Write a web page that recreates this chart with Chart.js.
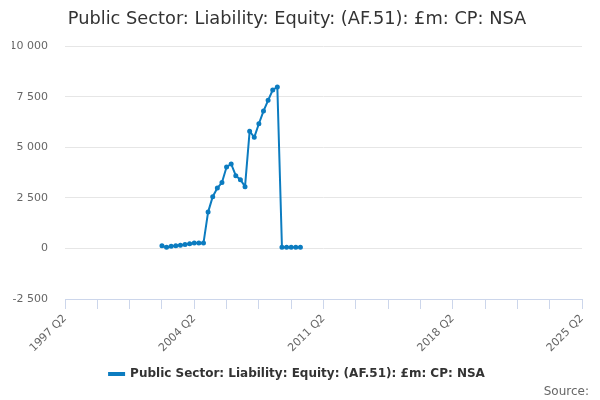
<!DOCTYPE html>
<html lang="en">
  <head>
    <meta charset="utf-8">
    <title>Public Sector equity liability</title>
    <script src="https://cdn.jsdelivr.net/npm/chart.js@4.4.0/dist/chart.umd.min.js"></script>
    <style>
      body { margin: 0; background: #fff; }
      #wrap { position: relative; width: 600px; height: 400px; }
      #source { position: absolute; right: 11px; bottom: 2px; font: 12px "DejaVu Sans", sans-serif; color: #666; }
    </style>
  </head>
  <body>
    <div id="wrap">
      <canvas id="chart" width="600" height="400"></canvas>
      <div id="source">Source:</div>
    </div>
    <script>
      const seriesName = 'Public Sector: Liability: Equity: (AF.51): £m: CP: NSA';
      const firstQuarter = '1997 Q2';
      const xTickLabels = ['1997 Q2', '2004 Q2', '2011 Q2', '2018 Q2', '2025 Q2'];
      const yTicks = [-2500, 0, 2500, 5000, 7500, 10000];

      const periods = [
        '2002 Q3', '2002 Q4', '2003 Q1', '2003 Q2', '2003 Q3', '2003 Q4',
        '2004 Q1', '2004 Q2', '2004 Q3', '2004 Q4', '2005 Q1', '2005 Q2',
        '2005 Q3', '2005 Q4', '2006 Q1', '2006 Q2', '2006 Q3', '2006 Q4',
        '2007 Q1', '2007 Q2', '2007 Q3', '2007 Q4', '2008 Q1', '2008 Q2',
        '2008 Q3', '2008 Q4', '2009 Q1', '2009 Q2', '2009 Q3', '2009 Q4',
        '2010 Q1'
      ];
      const values = [
        130, 60, 110, 130, 160, 200, 230, 265, 265, 265, 1800, 2560,
        2990, 3260, 4030, 4180, 3600, 3400, 3060, 5800, 5500, 6170,
        6800, 7330, 7840, 7990, 65, 65, 65, 65, 65
      ];

      // quarter index counted from the first axis period
      function qIndex(p) {
        const [y, q] = p.split(' Q').map(Number);
        const [y0, q0] = firstQuarter.split(' Q').map(Number);
        return (y - y0) * 4 + (q - q0);
      }
      const lastIndex = qIndex(xTickLabels[xTickLabels.length - 1]);

      function fmt(v) {
        const s = String(Math.abs(v)).replace(/\B(?=(\d{3})+(?!\d))/g, ' ');
        return v < 0 ? '-' + s : s;
      }

      const blue = '#0c7cc0';
      const font = '"DejaVu Sans", sans-serif';

      new Chart(document.getElementById('chart'), {
        type: 'line',
        data: {
          datasets: [{
            label: seriesName,
            data: periods.map((p, i) => ({ x: qIndex(p), y: values[i] })),
            borderColor: blue,
            backgroundColor: blue,
            borderWidth: 2,
            pointRadius: 1.5,
            pointHoverRadius: 2,
            tension: 0
          }]
        },
        options: {
          responsive: false,
          animation: false,
          layout: { padding: { left: 12, right: 18, top: 0, bottom: 10 } },
          plugins: {
            title: {
              display: true,
              text: seriesName,
              color: '#333',
              font: { family: font, size: 17.8, weight: 'normal' },
              padding: { top: 9, bottom: 16 }
            },
            legend: {
              position: 'bottom',
              labels: {
                color: '#333',
                font: { family: font, size: 12, weight: 'bold' },
                boxWidth: 15,
                boxHeight: 2,
                padding: 8
              }
            },
            tooltip: { enabled: false }
          },
          scales: {
            x: {
              type: 'linear',
              min: 0,
              max: lastIndex,
              afterFit: s => { s.height = 61; },
              ticks: {
                stepSize: 7,
                autoSkip: false,
                minRotation: 45,
                maxRotation: 45,
                padding: 3,
                color: '#666',
                font: { family: font, size: 11 },
                callback: v => {
                  const i = xTickLabels.findIndex(l => qIndex(l) === v);
                  return i >= 0 ? xTickLabels[i] : '';
                }
              },
              grid: { drawOnChartArea: false, tickLength: 10, color: '#ccd6eb' },
              border: { color: '#ccd6eb' }
            },
            y: {
              min: yTicks[0],
              max: yTicks[yTicks.length - 1],
              afterFit: s => { s.width = 53; },
              afterBuildTicks: s => { s.ticks = yTicks.map(v => ({ value: v })); },
              ticks: {
                color: '#666',
                padding: 17,
                font: { family: font, size: 11 },
                callback: v => fmt(v)
              },
              grid: { color: '#e6e6e6', drawTicks: false },
              border: { display: false }
            }
          }
        }
      });
    </script>
  </body>
</html>
